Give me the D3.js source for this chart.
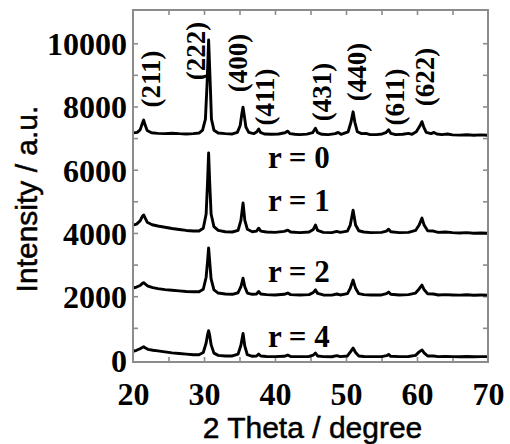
<!DOCTYPE html>
<html>
<head>
<meta charset="utf-8">
<script src="https://cdn.jsdelivr.net/npm/d3@7"></script>
<style>
  html, body { margin: 0; padding: 0; background: #fff; }
  svg { display: block; }
</style>
</head>
<body>
<svg id="chart" width="510" height="444"></svg>
<script>
// XRD patterns, [2θ (degree), intensity (a.u.)], each pattern offset vertically
const patternR0 = [
  [20,7170],[20.6,7180],[21.0,7260],[21.3,7450],[21.5,7570],[21.7,7420],[22.0,7240],[22.6,7170],
  [23.5,7150],[24.5,7140],[25.5,7155],[26.5,7140],[27.5,7130],[28.5,7140],[29.3,7160],[29.8,7250],
  [30.2,7600],[30.45,8800],[30.65,10100],[30.85,8900],[31.05,7600],[31.4,7250],[32,7160],[33,7140],
  [34,7130],[34.7,7180],[35.1,7400],[35.35,7800],[35.5,7980],[35.65,7750],[35.9,7350],[36.3,7180],
  [37.0,7140],[37.45,7200],[37.7,7290],[37.95,7180],[38.5,7130],[39.5,7120],[40.5,7130],[41.4,7170],
  [41.8,7220],[42.1,7140],[42.8,7120],[43.5,7110],[44.5,7125],[45.3,7170],[45.7,7310],[46.0,7170],
  [46.6,7120],[47.5,7110],[48.5,7140],[48.9,7180],[49.3,7120],[50.3,7200],[50.7,7500],[51.0,7830],
  [51.25,7500],[51.6,7200],[52.2,7140],[52.8,7150],[53.4,7110],[54.3,7110],[55.1,7130],[55.6,7170],
  [56.0,7260],[56.3,7150],[57.0,7110],[58.0,7120],[58.8,7150],[59.3,7120],[59.9,7200],[60.4,7380],
  [60.7,7520],[60.95,7350],[61.3,7180],[62.0,7140],[62.4,7180],[62.8,7130],[63.5,7110],[64.3,7130],
  [65,7100],[66,7095],[67,7105],[68,7090],[69,7100],[70,7090]
];
const patternR1 = [
  [20,4250],[20.5,4280],[21.0,4380],[21.3,4520],[21.5,4570],[21.7,4480],[22.0,4340],[22.7,4260],
  [23.5,4220],[24.5,4180],[25.5,4140],[26.5,4110],[27.5,4080],[28.5,4060],[29.3,4060],[29.9,4150],
  [30.3,4600],[30.5,5600],[30.65,6530],[30.8,5600],[31.0,4600],[31.4,4200],[32,4080],[33,4040],
  [34,4030],[34.8,4080],[35.2,4400],[35.5,4950],[35.75,4400],[36.1,4120],[36.8,4040],[37.4,4060],
  [37.7,4150],[38.0,4060],[38.8,4030],[40,4020],[41.3,4050],[41.8,4090],[42.2,4030],[43.5,4010],
  [44.8,4030],[45.4,4110],[45.7,4250],[46.0,4080],[46.8,4020],[48,4010],[48.7,4050],[49.2,4020],
  [50.2,4060],[50.6,4250],[51.0,4720],[51.35,4250],[51.8,4070],[52.5,4030],[53.5,4010],[55,4020],
  [55.7,4060],[56.0,4120],[56.3,4040],[57.5,4010],[58.8,4020],[59.8,4080],[60.3,4250],[60.7,4470],
  [61.0,4250],[61.5,4070],[62.3,4060],[63,4020],[64,4030],[65,4010],[66,4000],[67,4010],
  [68,3990],[69,4000],[70,3990]
];
const patternR2 = [
  [20,2260],[20.5,2290],[21.0,2340],[21.3,2400],[21.5,2430],[21.7,2390],[22.1,2320],[22.8,2270],
  [23.5,2240],[24.5,2210],[25.5,2190],[26.5,2170],[27.5,2150],[28.5,2140],[29.3,2140],[29.9,2220],
  [30.3,2600],[30.5,3100],[30.65,3530],[30.8,3100],[31.0,2550],[31.4,2200],[32,2100],[33,2070],
  [34,2060],[34.8,2110],[35.2,2300],[35.5,2570],[35.75,2300],[36.1,2100],[36.8,2060],[37.4,2070],
  [37.7,2150],[38.0,2070],[38.8,2050],[40,2040],[41.3,2060],[41.8,2100],[42.2,2050],[43.5,2040],
  [44.8,2050],[45.4,2120],[45.7,2200],[46.0,2090],[46.8,2040],[48,2035],[48.7,2070],[49.2,2040],
  [50.2,2080],[50.6,2250],[51.0,2510],[51.35,2250],[51.8,2080],[52.5,2050],[53.5,2040],[55,2040],
  [55.7,2080],[56.0,2130],[56.3,2060],[57.5,2040],[58.8,2050],[59.8,2100],[60.3,2230],[60.7,2350],
  [61.0,2210],[61.5,2080],[62.3,2070],[63,2040],[64,2050],[65,2040],[66,2035],[67,2045],
  [68,2030],[69,2040],[70,2035]
];
const patternR4 = [
  [20,260],[20.5,290],[21.0,340],[21.3,380],[21.5,400],[21.7,370],[22.1,320],[22.8,290],
  [23.5,270],[24.5,240],[25.5,210],[26.5,190],[27.5,170],[28.5,150],[29.3,150],[29.9,220],
  [30.3,520],[30.5,780],[30.65,910],[30.8,760],[31.0,470],[31.4,200],[32,130],[33,110],
  [34,110],[34.8,170],[35.2,450],[35.5,820],[35.75,420],[36.1,150],[36.8,100],[37.4,110],
  [37.7,170],[38.0,110],[38.8,95],[40,90],[41.3,100],[41.8,140],[42.2,95],[43.5,90],
  [44.8,95],[45.4,140],[45.7,200],[46.0,110],[46.8,90],[48,85],[48.7,120],[49.2,90],
  [50.2,110],[50.6,230],[51.0,360],[51.35,220],[51.8,110],[52.5,95],[53.5,90],[55,90],
  [55.7,120],[56.0,160],[56.3,100],[57.5,90],[58.8,95],[59.8,130],[60.3,240],[60.7,300],
  [61.0,210],[61.5,110],[62.3,110],[63,90],[64,95],[65,90],[66,85],[67,95],
  [68,85],[69,90],[70,90]
];

// Miller-index annotations (label centre in data coordinates)
const reflectionLabels = ["(211)", "(222)", "(400)", "(411)", "(431)", "(440)", "(611)", "(622)"];
const reflectionLabelX = [22.54, 28.87, 34.79, 38.59, 46.62, 51.55, 56.90, 61.13];
const reflectionLabelY = [8869, 9754, 9374, 8299, 8457, 9090, 8299, 8932];

// Sample labels (left edge / baseline in data coordinates)
const sampleLabels = ["r = 0", "r = 1", "r = 2", "r = 4"];
const sampleLabelX = [39.0, 39.0, 39.0, 39.0];
const sampleLabelY = [6054, 4694, 2450, 394];

const xMajorTicks = [20, 30, 40, 50, 60, 70];
const xMinorTicks = [25, 30, 35, 40, 45, 50, 55, 60, 65];
const yMajorTicks = [0, 2000, 4000, 6000, 8000, 10000];
const yMinorTicks = [1000, 2000, 3000, 4000, 5000, 6000, 7000, 8000, 9000, 10000];

const xTitle = "2 Theta / degree";
const yTitle = "Intensity / a.u.";

const svg = d3.select("#chart");
const plot = { left: 133, right: 488, top: 10, bottom: 362 };

const x = d3.scaleLinear().domain([20, 70]).range([plot.left, plot.right]);
const y = d3.scaleLinear().domain([-80, 11050]).range([plot.bottom, plot.top]);

const serif = "'Liberation Serif', 'Times New Roman', serif";
const sans = "'Liberation Sans', Arial, sans-serif";
const frameColor = "#8c8c8c";

// Inward tick marks on all four sides
function styleTicks(g) {
  g.select(".domain").remove();
  g.selectAll(".tick line").attr("stroke", frameColor).attr("stroke-width", 1.6);
}
svg.append("g").attr("transform", `translate(0,${plot.bottom})`)
  .call(d3.axisBottom(x).tickValues(xMinorTicks).tickSize(-5).tickFormat(""))
  .call(styleTicks);
svg.append("g").attr("transform", `translate(0,${plot.top})`)
  .call(d3.axisTop(x).tickValues(xMinorTicks).tickSize(-5).tickFormat(""))
  .call(styleTicks);
svg.append("g").attr("transform", `translate(${plot.left},0)`)
  .call(d3.axisLeft(y).tickValues(yMinorTicks).tickSize(-5).tickFormat(""))
  .call(styleTicks);
svg.append("g").attr("transform", `translate(${plot.right},0)`)
  .call(d3.axisRight(y).tickValues(yMinorTicks).tickSize(-5).tickFormat(""))
  .call(styleTicks);

// Tick labels
const xLab = svg.append("g").attr("transform", `translate(0,${plot.bottom})`)
  .call(d3.axisBottom(x).tickValues(xMajorTicks).tickSize(0).tickPadding(20).tickFormat(d3.format("d")));
xLab.select(".domain").remove();
xLab.selectAll("text").attr("font-family", serif).attr("font-weight", "bold")
  .attr("font-size", 32).attr("fill", "#000");

const yLab = svg.append("g").attr("transform", `translate(${plot.left},0)`)
  .call(d3.axisLeft(y).tickValues(yMajorTicks).tickSize(0).tickPadding(6).tickFormat(d3.format("d")));
yLab.select(".domain").remove();
yLab.selectAll("text").attr("font-family", serif).attr("font-weight", "bold")
  .attr("font-size", 32).attr("fill", "#000").attr("dy", "0.36em");

// Diffraction patterns
const line = d3.line().x(d => x(d[0])).y(d => y(d[1]));
[patternR0, patternR1, patternR2, patternR4].forEach(p => {
  svg.append("path").datum(p)
    .attr("d", line)
    .attr("fill", "none")
    .attr("stroke", "#000")
    .attr("stroke-width", 2.9)
    .attr("stroke-linejoin", "round");
});

// Frame
svg.append("rect")
  .attr("x", plot.left).attr("y", plot.top)
  .attr("width", plot.right - plot.left).attr("height", plot.bottom - plot.top)
  .attr("fill", "none").attr("stroke", frameColor).attr("stroke-width", 2);

// Reflection indices, rotated
reflectionLabels.forEach((t, i) => {
  svg.append("text")
    .attr("transform", `translate(${x(reflectionLabelX[i])},${y(reflectionLabelY[i])}) rotate(-90)`)
    .attr("text-anchor", "middle")
    .attr("dy", "0.35em")
    .attr("font-family", serif).attr("font-weight", "bold").attr("font-size", 27)
    .attr("fill", "#000")
    .text(t);
});

// Sample labels
sampleLabels.forEach((t, i) => {
  svg.append("text")
    .attr("x", x(sampleLabelX[i])).attr("y", y(sampleLabelY[i]))
    .attr("font-family", serif).attr("font-weight", "bold").attr("font-size", 31)
    .attr("fill", "#000")
    .attr("xml:space", "preserve")
    .text(t);
});

// Axis titles
svg.append("text")
  .attr("x", (plot.left + plot.right) / 2 + 2).attr("y", 438)
  .attr("text-anchor", "middle")
  .attr("font-family", sans).attr("font-size", 30).attr("fill", "#000")
  .attr("stroke", "#000").attr("stroke-width", 0.5)
  .text(xTitle);

svg.append("text")
  .attr("transform", `translate(37,${(100 + 298) / 2}) rotate(-90)`)
  .attr("text-anchor", "middle")
  .attr("font-family", sans).attr("font-size", 30).attr("fill", "#000")
  .attr("stroke", "#000").attr("stroke-width", 0.5)
  .text(yTitle);
</script>
</body>
</html>
